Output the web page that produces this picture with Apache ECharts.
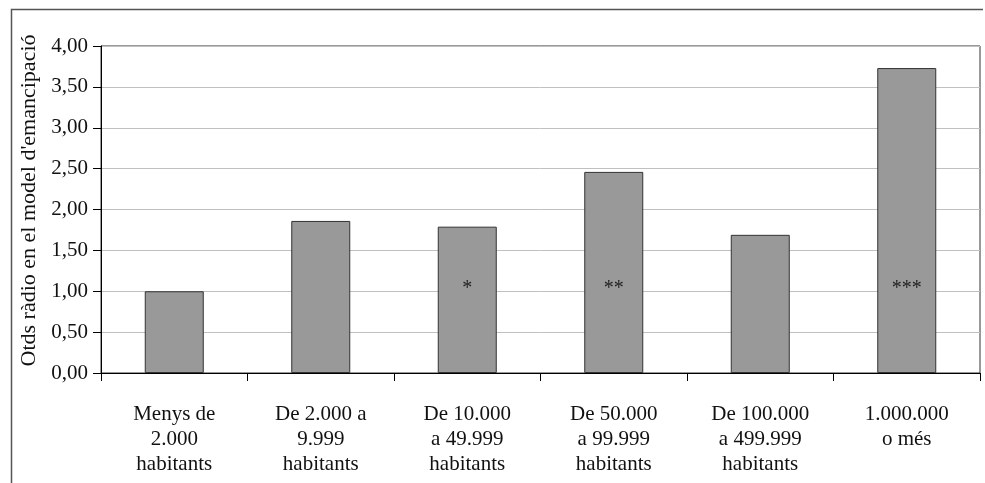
<!DOCTYPE html>
<html><head><meta charset="utf-8">
<script src="https://cdn.jsdelivr.net/npm/echarts@6/dist/echarts.min.js"></script>
<style>html,body{margin:0;padding:0;background:#fff}#c{width:985px;height:483px}</style>
</head><body><div id="c"></div>
<script>
const categories = ["Menys de\n2.000\nhabitants","De 2.000 a\n9.999\nhabitants","De 10.000\na 49.999\nhabitants","De 50.000\na 99.999\nhabitants","De 100.000\na 499.999\nhabitants","1.000.000\no més"];
const oddsRatio = [1.00, 1.86, 1.79, 2.46, 1.69, 3.73];
const significance = ["", "", "*", "**", "", "***"];
const markerLevel = [1.03, 1.03, 1.03, 1.03, 1.03, 1.03];
const yAxisName = "Otds ràdio en el model d'emancipació";

const font = "'Liberation Serif', 'DejaVu Serif', serif";
const chart = echarts.init(document.getElementById('c'), null, {renderer:'canvas'});
chart.setOption({
  animation:false,
  textStyle:{fontFamily:font},
  grid:{left:101, right:5, top:46, bottom:110, show:true, borderColor:'#333', borderWidth:1, containLabel:false},
  xAxis:{type:'category', data:categories,
    axisLine:{lineStyle:{color:'#000', width:1}},
    axisTick:{show:true, length:8, alignWithLabel:false, lineStyle:{color:'#000'}},
    axisLabel:{color:'#111', fontSize:21, lineHeight:25, margin:29, fontFamily:font, interval:0}},
  yAxis:{type:'value', min:0, max:4, interval:0.5,
    name:yAxisName, nameLocation:'middle', nameGap:53, nameRotate:90,
    nameTextStyle:{color:'#111', fontSize:22, fontFamily:font, padding:[0,0,0,18]},
    axisLine:{show:true, lineStyle:{color:'#000'}},
    axisTick:{show:true, length:8, inside:false, lineStyle:{color:'#000'}},
    splitLine:{lineStyle:{color:'#c0c0c0', width:1}},
    axisLabel:{color:'#111', fontSize:21, margin:13, fontFamily:font,
      formatter:v=>v.toFixed(2).replace('.',',')}},
  series:[
    {type:'bar', data:oddsRatio, barWidth:59, itemStyle:{color:'#999999', borderColor:'#333', borderWidth:1}},
    {type:'scatter', data:markerLevel.map((v,i)=>significance[i]?[i,v]:null).filter(d=>d), symbolSize:0,
      label:{show:true, position:'inside', formatter:p=>significance[p.data[0]], color:'#000', fontSize:20, fontFamily:font}}
  ],
  graphic:[
    {type:'polyline', shape:{points:[[11.5,483],[11.5,9.5],[983,9.5]]}, style:{stroke:'#555', lineWidth:1.5, fill:null}, silent:true}
  ]
});
</script></body></html>
